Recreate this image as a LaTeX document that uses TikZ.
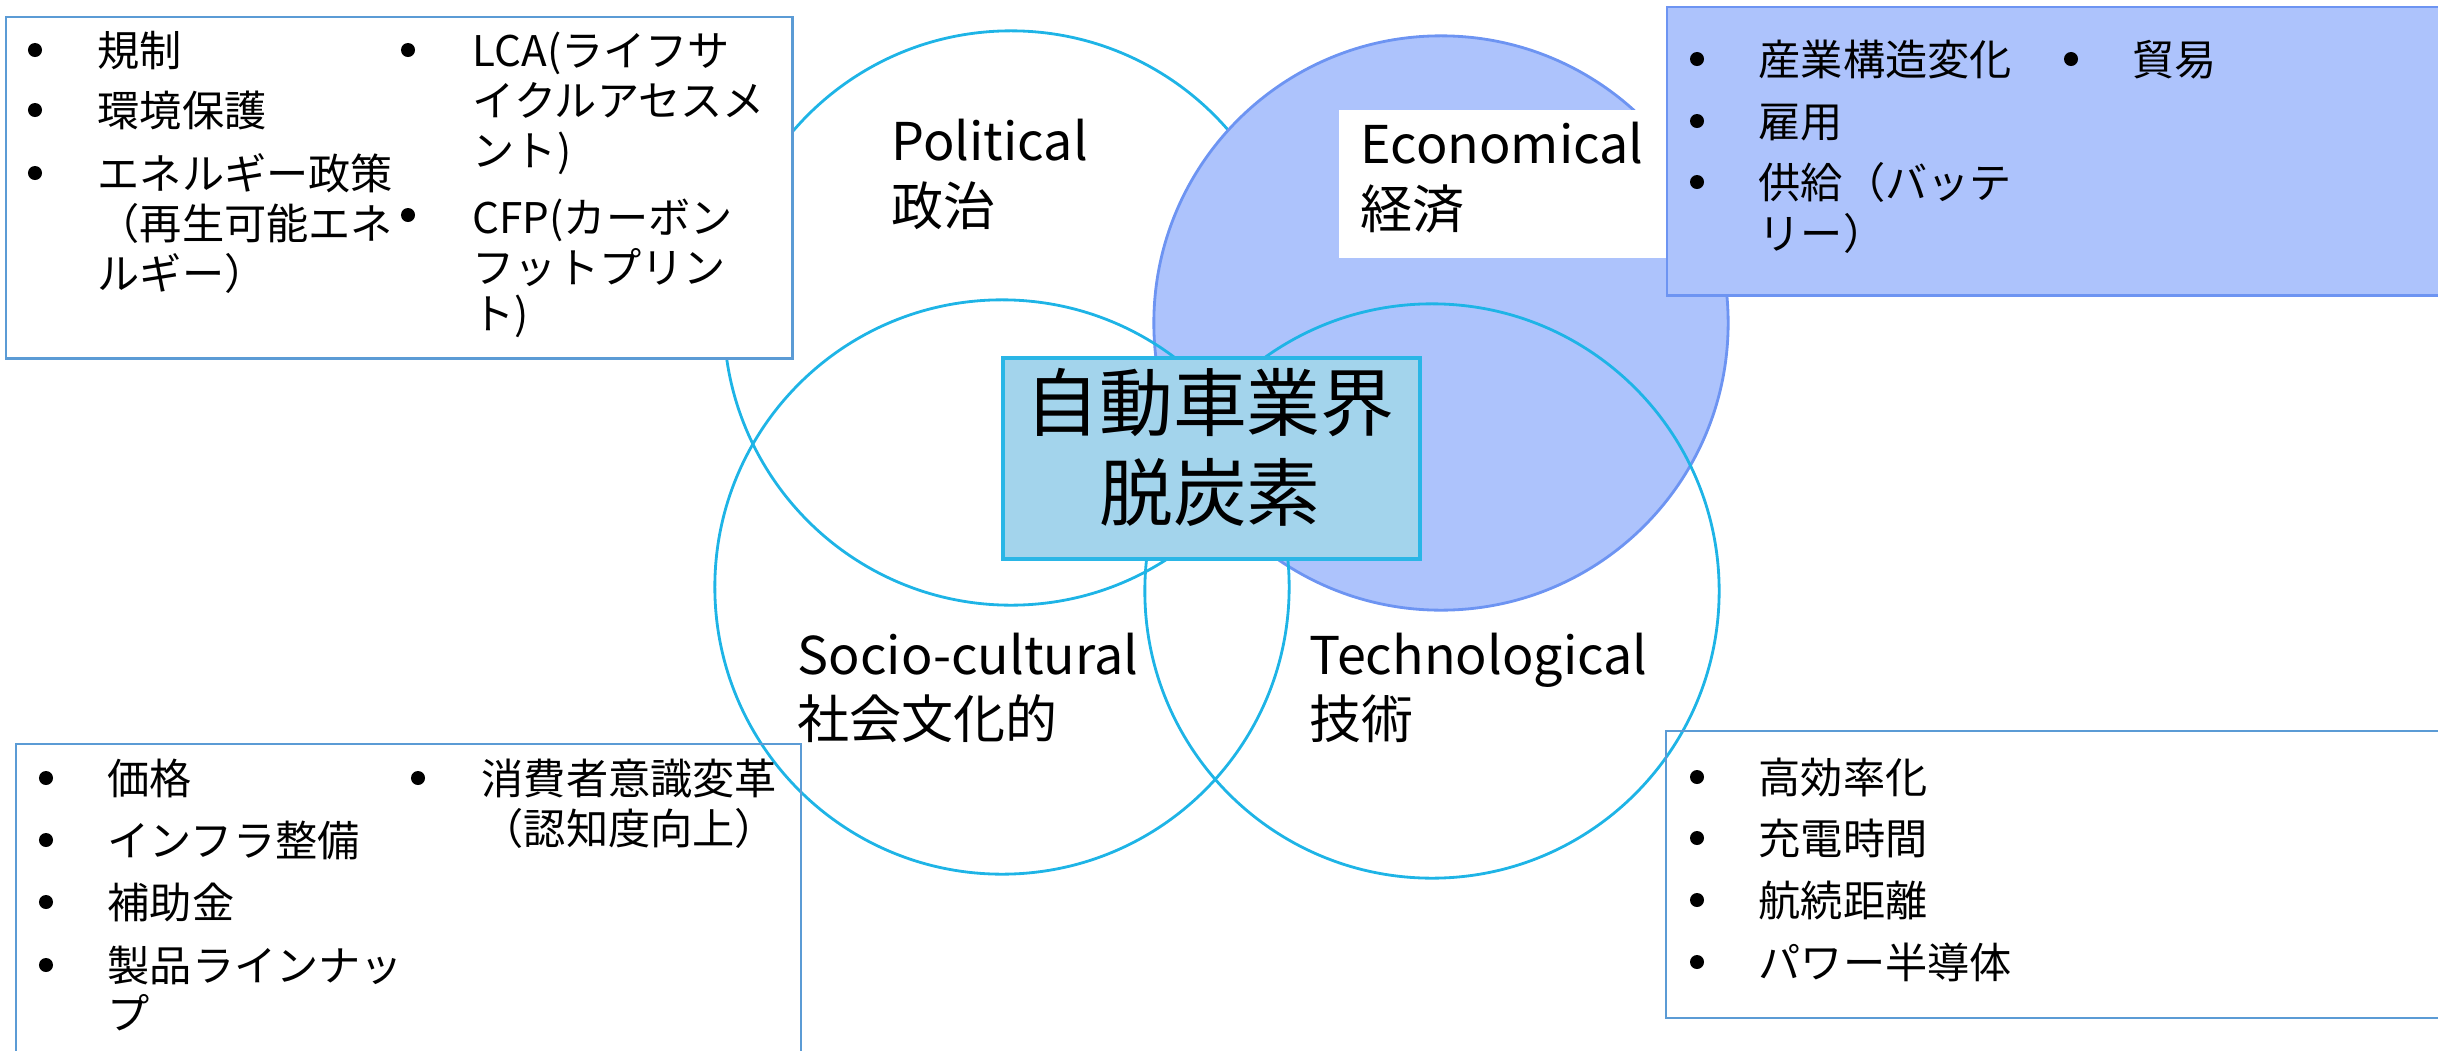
\documentclass[tikz,border=0pt]{standalone}
\usepackage{fontspec}
\setmainfont{Noto Sans CJK JP}
\definecolor{boxblue}{HTML}{5B9BD5}
\definecolor{econfill}{HTML}{ADC3FC}
\definecolor{econline}{HTML}{6D94F2}
\definecolor{cyanline}{HTML}{1EB4E6}
\definecolor{centerfill}{HTML}{A3D4EC}
\definecolor{centerline}{HTML}{2AB6E6}
\tikzset{
  ring/.style={circle, draw=cyanline, line width=0.8pt, minimum size=5.74cm, inner sep=0pt},
  li/.style={anchor=base west, inner sep=0pt, font=\fontsize{12}{14}\selectfont},
  lab/.style={anchor=base west, inner sep=0pt, font=\fontsize{14.8}{17}\selectfont},
  big/.style={anchor=base, inner sep=0pt, font=\fontsize{21}{24}\selectfont},
  bul/.style={circle, fill=black, inner sep=0pt, minimum size=0.14cm},
  listbox/.style={draw=boxblue, line width=0.7pt}
}
\begin{document}
\begin{tikzpicture}[x=0.01cm,y=-0.01cm]
\useasboundingbox (0,0) rectangle (2438,1051);
% Political circle
\node[ring] (pol) at (1011,318) {};
% Economical circle
\node[circle, fill=econfill, draw=econline, line width=0.8pt, minimum size=5.74cm, inner sep=0pt] (eco) at (1441,323) {};
% white label background
\node[fill=white, inner sep=0pt, minimum width=3.28cm, minimum height=1.48cm, anchor=north west] (ecobg) at (1338,109) {};
% Economical list box
\node[fill=econfill, draw=econline, line width=0.7pt, inner sep=0pt, minimum width=7.9cm, minimum height=2.88cm, anchor=north west] (ecobox) at (1666,6) {};
% Political list box
\node[fill=white, listbox, inner sep=0pt, minimum width=7.86cm, minimum height=3.41cm, anchor=north west] (polbox) at (5,16) {};
% Socio and Technological circles
\node[ring] (soc) at (1002,587) {};
\node[ring] (tec) at (1432,591) {};
% centre box
\node[fill=centerfill, draw=centerline, line width=1pt, inner sep=0pt, minimum width=4.17cm, minimum height=2.01cm, anchor=north west] (core) at (1001,356) {};
\node[big] (core1) at (1210,430) {自動車業界};
\node[big] (core2) at (1210,520) {脱炭素};
% bottom boxes (open at the page edge)
\coordinate (sb1) at (16,1060);
\coordinate (sb2) at (16,744);
\coordinate (sb3) at (801,744);
\coordinate (sb4) at (801,1060);
\draw[listbox] (sb1) -- (sb2) -- (sb3) -- (sb4);
\coordinate (tb1) at (2445,731);
\coordinate (tb2) at (1666,731);
\coordinate (tb3) at (1666,1018);
\coordinate (tb4) at (2445,1018);
\draw[listbox] (tb1) -- (tb2) -- (tb3) -- (tb4);
% circle labels
\node[lab] (pl1) at (891,160) {Political};
\node[lab] (pl2) at (891,225) {政治};
\node[lab] (el1) at (1360,163) {Economical};
\node[lab] (el2) at (1360,228) {経済};
\node[lab] (sl1) at (797,674) {Socio-cultural};
\node[lab] (sl2) at (797,738) {社会文化的};
\node[lab] (tl1) at (1309,674) {Technological};
\node[lab] (tl2) at (1309,738) {技術};
% Political list
\node[bul] (pb1) at (35,50) {};
\node[li] (p1) at (97,66) {規制};
\node[bul] (pb2) at (35,110) {};
\node[li] (p2) at (97,126) {環境保護};
\node[bul] (pb3) at (35,173) {};
\node[li] (p3a) at (97,189) {エネルギー政策};
\node[li] (p3b) at (97,239) {（再生可能エネ};
\node[li] (p3c) at (97,289) {ルギー）};
\node[bul] (pb4) at (408,50) {};
\node[li] (p4a) at (472,66) {LCA(ライフサ};
\node[li] (p4b) at (472,116) {イクルアセスメ};
\node[li] (p4c) at (472,166) {ント)};
\node[bul] (pb5) at (408,215) {};
\node[li] (p5a) at (472,233) {CFP(カーボン};
\node[li] (p5b) at (472,283) {フットプリン};
\node[li] (p5c) at (472,329) {ト)};
% Economical list
\node[bul] (eb1) at (1697,59) {};
\node[li] (e1) at (1758,75) {産業構造変化};
\node[bul] (eb2) at (1697,121) {};
\node[li] (e2) at (1758,137) {雇用};
\node[bul] (eb3) at (1697,182) {};
\node[li] (e3a) at (1758,198) {供給（バッテ};
\node[li] (e3b) at (1758,249) {リー）};
\node[bul] (eb4) at (2071,59) {};
\node[li] (e4) at (2132,75) {貿易};
% Socio-cultural list
\node[bul] (sb1n) at (46,778) {};
\node[li] (s1) at (107,794) {価格};
\node[bul] (sb2n) at (46,840) {};
\node[li] (s2) at (107,856) {インフラ整備};
\node[bul] (sb3n) at (46,902) {};
\node[li] (s3) at (107,918) {補助金};
\node[bul] (sb4n) at (46,965) {};
\node[li] (s4a) at (107,981) {製品ラインナッ};
\node[li] (s4b) at (107,1029) {プ};
\node[bul] (sb5n) at (418,778) {};
\node[li] (s5a) at (481,794) {消費者意識変革};
\node[li] (s5b) at (481,844) {（認知度向上）};
% Technological list
\node[bul] (tb1n) at (1697,777) {};
\node[li] (t1) at (1758,793) {高効率化};
\node[bul] (tb2n) at (1697,838) {};
\node[li] (t2) at (1758,854) {充電時間};
\node[bul] (tb3n) at (1697,900) {};
\node[li] (t3) at (1758,916) {航続距離};
\node[bul] (tb4n) at (1697,962) {};
\node[li] (t4) at (1758,978) {パワー半導体};
\end{tikzpicture}
\end{document}
